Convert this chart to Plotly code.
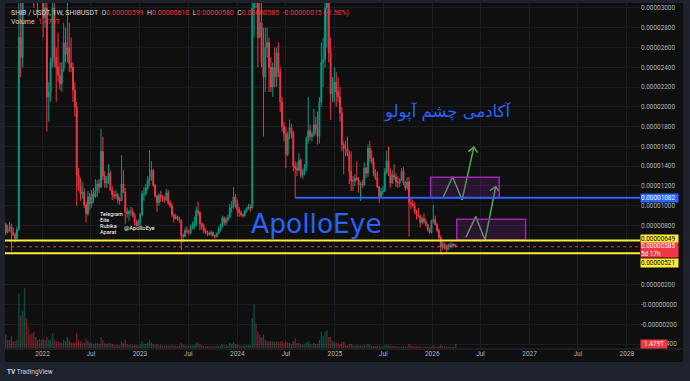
import pandas as pd
import plotly.graph_objects as go

# ---------------- DATA (weekly SHIB/USDT, prices in 1e-6 USDT, volume in trillions) ----------------
first_open = 6.9
last_open = 5.99
close_2021 = [8.1, 7.3, 7.7, 7.9, 7.3, 7.1, 6.7, 7.6, 27, 25, 33, 57, 56, 52, 43, 42, 36, 34, 33, 38, 33]
high_2021 = [8.9, 8.3, 8.1, 8.4, 8.2, 7.8, 7.3, 7.9, 35, 31, 35, 88, 66, 60, 53, 48, 46, 38, 35, 39, 39]
low_2021 = [6.7, 7.0, 7.2, 7.4, 5.4, 6.9, 6.3, 6.6, 7.5, 23, 24, 33, 52, 50, 41, 40, 30, 31, 29, 32, 32]
vol_2021 = [4, 5, 3, 3, 4.5, 2.5, 2.5, 3, 20, 12, 14, 22, 11, 8, 5, 5.5, 6, 4, 3, 3.5, 3]

close_2022 = [29, 30, 21, 21.5, 24.5, 30, 25, 24, 23.2, 22.3, 23.8, 26.5, 25.3, 26, 24.4, 24, 21.7, 20, 13.1, 12,
              11.2, 11.4, 10.1, 9.2, 10.9, 10.2, 11.2, 10.9, 11.5, 12.2, 11.9, 15.5, 13.0, 12.3, 12.4, 13.3, 11.6,
              11.1, 11.0, 11.1, 10.6, 10.5, 12.2, 11.4, 9.4, 9.2, 9.4, 9.4, 9.0, 8.4, 8.0, 8.4]
high_2022 = [34, 33, 31, 22.5, 25, 35, 31, 26, 27.5, 24.5, 24.5, 28.5, 28, 31, 28.5, 27, 24.5, 22.5, 20.5, 13.8,
             12.8, 12.4, 11.8, 10.4, 11.5, 11.3, 11.6, 11.8, 12.7, 12.6, 12.7, 17.8, 17.0, 13.5, 13.0, 14.2, 13.6,
             12.0, 11.5, 11.6, 11.3, 10.9, 15.1, 13.6, 11.8, 9.8, 9.6, 9.9, 9.8, 9.3, 8.6, 8.6]
low_2022 = [27, 28, 17.5, 18.5, 20.5, 24, 24, 20.5, 22.5, 21.7, 21.5, 23.5, 24.5, 24.5, 23.5, 23.5, 20.5, 19, 10,
            11.5, 10.5, 10.7, 9.8, 8.3, 9.0, 9.6, 9.8, 10.3, 10.8, 10.9, 11.3, 11.8, 12.6, 11.8, 11.8, 12.2, 11.5,
            10.6, 10.7, 10.7, 10.2, 10.1, 10.5, 11.3, 8.2, 8.8, 8.5, 9.0, 8.8, 8.0, 7.9, 7.9]
vol_2022 = [3.5, 3, 4, 3, 3, 5.5, 3, 2.5, 2.5, 2, 2, 3, 2.5, 4, 3, 2, 2, 2, 5.5, 3, 2.5, 2, 2, 3.5, 2.5, 2,
            1.8, 1.5, 2, 1.8, 1.5, 4, 3, 1.8, 1.5, 2, 1.8, 1.5, 1.2, 1.2, 1.2, 1.0, 2.5, 1.8, 3, 1.5, 1.2, 1.2,
            1.0, 1.2, 1.0, 0.9]

close_2023 = [9.1, 11.2, 11.2, 11.8, 12.6, 12.8, 13.6, 12.1, 11.0, 10.3, 11.1, 10.8, 10.8, 10.6, 11.3, 10.3, 10.0,
              9.1, 8.7, 8.9, 8.7, 8.5, 7.0, 6.9, 7.5, 7.4, 7.3, 7.8, 8.0, 8.1, 9.5, 9.3, 8.2, 7.9, 7.5, 7.3, 7.2,
              7.1, 7.3, 7.0, 6.9, 7.2, 7.6, 7.9, 8.8, 8.3, 8.6, 8.8, 9.8, 9.9, 10.9, 10.2]
high_2023 = [9.3, 11.5, 11.9, 12.2, 13.0, 15.6, 14.5, 13.7, 12.2, 11.1, 11.3, 11.5, 11.1, 11.0, 11.7, 11.6, 10.6,
             10.3, 9.2, 9.2, 9.0, 8.9, 8.6, 7.2, 7.8, 7.9, 7.6, 8.1, 8.4, 8.9, 9.9, 10.4, 9.5, 8.3, 8.2, 7.7, 7.5,
             7.4, 7.5, 7.4, 7.1, 7.3, 7.9, 8.2, 9.0, 8.9, 8.9, 9.1, 10.2, 10.5, 11.9, 11.2]
low_2023 = [7.9, 9.0, 10.5, 11.0, 11.6, 12.0, 12.5, 11.9, 10.8, 9.4, 10.0, 10.4, 10.4, 10.3, 10.5, 10.1, 9.8, 8.9,
            8.3, 8.6, 8.5, 8.3, 5.5, 6.3, 6.8, 7.2, 7.0, 7.1, 7.6, 7.6, 7.9, 9.0, 7.5, 7.6, 7.2, 7.1, 6.9, 7.0,
            6.9, 6.9, 6.7, 6.8, 7.1, 7.4, 7.8, 8.0, 8.0, 8.4, 8.8, 9.3, 9.7, 9.8]
vol_2023 = [1.5, 2.5, 1.5, 1.5, 2, 3, 2, 1.5, 1.2, 1.5, 1.2, 1, 0.9, 0.8, 1, 0.9, 0.8, 1, 0.9, 0.8, 0.7, 0.7, 2,
            1.2, 1, 0.8, 0.7, 0.9, 1, 1, 2, 2, 1.5, 1, 0.8, 0.7, 0.7, 0.6, 0.6, 0.6, 0.6, 0.6, 0.8, 0.9, 1.5, 1,
            1, 1, 1.8, 1.5, 2.2, 1.5]

close_2024 = [9.6, 9.3, 9.1, 9.0, 9.5, 9.7, 9.9, 9.8, 30, 32, 31, 27, 28.5, 24.5, 23, 26, 26.5, 24, 22, 24, 23,
              25.5, 23.5, 20.5, 18, 17.3, 15.2, 17.2, 17.9, 17.4, 14.0, 13.8, 13.6, 14.6, 13.1, 13.4, 13.9, 16.8,
              17.6, 17.0, 17.2, 18.2, 17.8, 17.0, 20.5, 24.5, 24.8, 30, 30.5, 25.5, 21.3, 21.8, 22.5]
high_2024 = [10.6, 9.9, 9.5, 9.2, 9.6, 9.9, 10.2, 10.1, 36, 45, 38, 33, 33, 31, 28, 28, 28, 27, 25, 24.5, 26, 26,
             26.5, 24, 21, 18.5, 18, 17.5, 18.7, 18.3, 17.6, 14.5, 14.4, 15.3, 14.8, 13.7, 14.2, 17.0, 21.0, 18.2,
             17.5, 19.8, 19.0, 19.5, 21, 26.5, 27, 31, 33, 31, 27, 23, 24]
low_2024 = [8.9, 8.9, 8.9, 8.8, 8.9, 9.3, 9.6, 9.4, 9.7, 27, 30, 24, 27, 24, 17, 21.5, 25, 21.5, 21.5, 21, 22, 22,
            23, 19.5, 17.5, 16.5, 13.8, 15, 16.7, 16.8, 13.5, 10.8, 13.0, 13.5, 12.8, 12.7, 13.1, 13.5, 16.3,
            16.6, 16.5, 17.0, 17.2, 16.2, 16.3, 20, 22, 24, 26, 24.5, 18.7, 20.5, 20.5]
vol_2024 = [1.2, 1, 0.8, 0.8, 0.9, 1, 1.2, 1, 11, 16, 9, 6, 5, 4, 5, 3, 2.5, 2.5, 2.5, 2.5, 2.2, 2.5, 2.2, 2.5,
            2.5, 1.8, 2.5, 2, 1.8, 1.5, 2.5, 3.5, 1.8, 1.8, 1.5, 1.2, 1.2, 2, 2.5, 1.5, 1.2, 1.8, 1.5, 1.5, 3, 6,
            4.5, 6, 6.5, 4, 4, 2.5, 2]

close_2025 = [21.5, 21, 19.4, 16.2, 15.8, 15.8, 15.2, 13.5, 12.5, 12.5, 12.8, 12.6, 12.1, 12.2, 12.1, 13.8, 13.3,
              15.8, 14.8, 14.5, 13.3, 12.8, 11.9, 10.9, 11.4, 11.5, 13.4, 14.5, 13.3, 12.3, 13.1, 12.9, 12.4,
              12.3, 12.6, 13.5, 12.3, 11.8, 12.4, 10.3, 10.2, 10.0, 9.4, 9.1, 9.0, 8.3, 8.7, 8.4, 8.1, 7.6, 7.3, 8.5]
high_2025 = [23.5, 23, 22, 20, 16.5, 16.6, 17.0, 15.6, 15.5, 13.0, 13.2, 14.5, 12.9, 12.4, 12.6, 14.4, 13.9, 16.2,
             16.6, 15.6, 14.9, 13.7, 13.5, 12.0, 11.8, 12.0, 13.8, 15.6, 16.0, 13.8, 13.6, 14.2, 13.3, 13.0, 12.8,
             13.8, 13.9, 12.5, 12.9, 12.9, 10.9, 10.6, 10.4, 9.6, 9.8, 9.1, 8.9, 9.2, 8.7, 8.2, 7.8, 8.6]
low_2025 = [20, 20.5, 18.5, 15.5, 13.2, 15.0, 15.0, 12.2, 11.5, 11.5, 12.0, 12.5, 11.3, 10.5, 11.8, 12.0, 12.8,
            12.9, 14.4, 14.2, 13.0, 12.6, 11.8, 10.3, 10.8, 11.1, 11.4, 13.2, 13.0, 11.8, 12.2, 12.6, 11.9, 11.8,
            11.9, 12.5, 12.1, 11.5, 11.6, 6.9, 9.7, 9.8, 9.2, 8.6, 8.8, 7.8, 8.1, 8.2, 7.9, 7.4, 7.2, 7.2]
vol_2025 = [2, 1.8, 1.5, 2, 2.2, 1.2, 1.0, 1.5, 1.5, 1.0, 0.8, 1.0, 0.8, 1.0, 0.7, 1.2, 0.8, 1.5, 1.2, 0.8, 0.8,
            0.7, 0.7, 0.8, 0.6, 0.5, 1.0, 1.2, 1.0, 0.8, 0.6, 0.7, 0.6, 0.5, 0.5, 0.6, 0.6, 0.5, 0.5, 1.5, 0.8,
            0.6, 0.6, 0.6, 0.5, 0.6, 0.5, 0.5, 0.5, 0.5, 0.4, 0.6]

close_2026 = [8.6, 8.1, 7.5, 6.8, 5.8, 6.1, 5.8, 5.6, 6.0, 5.9, 6.1, 6.00, 5.85]
high_2026 = [10.1, 9.0, 8.3, 7.7, 7.0, 6.4, 6.3, 6.1, 6.2, 6.3, 6.3, 6.2, 6.10]
low_2026 = [8.2, 8.0, 7.3, 6.6, 5.1, 5.5, 5.6, 5.3, 5.5, 5.8, 5.7, 5.8, 5.80]
vol_2026 = [0.9, 0.6, 0.5, 0.7, 1.2, 0.8, 0.6, 0.5, 0.5, 0.5, 0.4, 0.5, 1.479]

first_week = "2021-08-09"

# horizontal levels (1e-6 USDT)
level_upper = 6.49
level_lower = 5.21
level_blue = 10.82
blue_start = "2024-08-04"

# drawn zones: (start, end, bottom, top)
zones = [("2025-12-26", "2026-09-09", 10.82, 12.88),
         ("2026-04-03", "2026-12-17", 6.52, 8.63)]

# projected paths
zig1_dates = ["2026-02-11", "2026-03-18", "2026-04-23", "2026-06-06"]
zig1_prices = [10.86, 12.94, 10.59, 15.92]
head1_dates = ["2026-05-16", "2026-06-06", "2026-06-20"]
head1_prices = [15.47, 15.92, 15.37]
zig2_dates = ["2026-05-07", "2026-06-13", "2026-07-18", "2026-08-27"]
zig2_prices = [6.81, 8.90, 6.54, 11.93]
head2_dates = ["2026-08-05", "2026-08-27", "2026-09-08"]
head2_prices = [11.53, 11.93, 11.50]

price_ticks = [-4, -2, 0, 2, 8, 10, 12, 14, 16, 18, 20, 22, 24, 26, 28, 30]
time_ticks = ["2022-01-01", "2022-07-01", "2023-01-01", "2023-07-01", "2024-01-01", "2024-07-01",
              "2025-01-01", "2025-07-01", "2026-01-01", "2026-07-01", "2027-01-01", "2027-07-01", "2028-01-01"]
time_labels = ["2022", "Jul", "2023", "Jul", "2024", "Jul", "2025", "Jul", "2026", "Jul", "2027", "Jul", "2028"]

# ---------------- BUILD ----------------
closes = close_2021 + close_2022 + close_2023 + close_2024 + close_2025 + close_2026
highs = high_2021 + high_2022 + high_2023 + high_2024 + high_2025 + high_2026
lows = low_2021 + low_2022 + low_2023 + low_2024 + low_2025 + low_2026
vols = vol_2021 + vol_2022 + vol_2023 + vol_2024 + vol_2025 + vol_2026
opens = [first_open] + closes[:-2] + [last_open]
dates = pd.date_range(first_week, periods=len(closes), freq="7D")
last_price = closes[-1]
change = closes[-1] - closes[-2]

GREEN = "#089981"
RED = "#f23645"
BG = "#0f0f0f"
OUTER = "#1e222d"
GRID = "#1a1d23"
AXT = "#b2b5be"
FONT = "Roboto"

X0, X1 = "2021-08-13", "2028-02-19"
Y0, Y1 = -4.38, 30.5

fig = go.Figure()

vol_colors = ["rgba(8,153,129,0.45)" if c >= o else "rgba(242,54,69,0.45)" for o, c in zip(opens, closes)]
fig.add_trace(go.Bar(x=dates, y=vols, marker=dict(color=vol_colors, line=dict(width=0)),
                     width=5 * 86400000, yaxis="y2", hoverinfo="skip", showlegend=False))

fig.add_trace(go.Candlestick(x=dates, open=opens, high=highs, low=lows, close=closes,
                             increasing=dict(line=dict(color=GREEN, width=1), fillcolor=GREEN),
                             decreasing=dict(line=dict(color=RED, width=1), fillcolor=RED),
                             whiskerwidth=0, showlegend=False, hoverinfo="skip"))

for dx, py in [(zig1_dates, zig1_prices), (head1_dates, head1_prices),
               (zig2_dates, zig2_prices), (head2_dates, head2_prices)]:
    fig.add_trace(go.Scatter(x=dx, y=py, mode="lines", line=dict(color="#4caf50", width=1.5),
                             hoverinfo="skip", showlegend=False))

shapes = []
shapes.append(dict(type="rect", xref="paper", yref="paper", x0=0, x1=678 / 635, y0=-14 / 345, y1=1.0,
                   fillcolor=BG, line=dict(width=0), layer="below"))
shapes.append(dict(type="line", xref="paper", yref="paper", x0=0, x1=678 / 635, y0=-1 / 345, y1=-1 / 345,
                   line=dict(color="#2a2e39", width=1), layer="above"))
for z in zones:
    shapes.append(dict(type="rect", xref="x", yref="y", x0=z[0], x1=z[1], y0=z[2], y1=z[3],
                       fillcolor="rgba(156,39,176,0.2)", line=dict(color="#9c27b0", width=1.5), layer="above"))
shapes.append(dict(type="line", xref="x", yref="y", x0=X0, x1=X1, y0=last_price, y1=last_price,
                   line=dict(color=RED, width=1, dash="dot"), layer="above"))
for lv in (level_upper, level_lower):
    shapes.append(dict(type="line", xref="x", yref="y", x0=X0, x1=X1, y0=lv, y1=lv,
                       line=dict(color="#ffeb3b", width=2), layer="above"))
shapes.append(dict(type="line", xref="x", yref="y", x0=blue_start, x1=X1, y0=level_blue, y1=level_blue,
                   line=dict(color="#2962ff", width=2), layer="above"))


def fmt(v):
    s = f"{abs(v) * 1e-6:.8f}"
    return ("-" + s) if v <= 0 else s


def ptxt(v):
    return f"{v * 1e-6:.8f}"


annotations = []
rd = f"<span style='color:{RED}'>"
header = (f"SHIB / USDT, 1W, SHIBUSDT  O{rd}{ptxt(opens[-1])}</span>  H{rd}{ptxt(highs[-1])}</span>  "
          f"L{rd}{ptxt(lows[-1])}</span>  C{rd}{ptxt(closes[-1])}</span>  "
          f"{rd}{ptxt(change)} ({change / closes[-2] * 100:.2f}%)</span>")
annotations.append(dict(xref="paper", yref="paper", x=4 / 635, y=(348 - 12.7) / 345, xanchor="left",
                        yanchor="middle", text=header, showarrow=False,
                        font=dict(family=FONT, size=7, color="#d1d4dc")))
annotations.append(dict(xref="paper", yref="paper", x=4 / 635, y=(348 - 21.7) / 345, xanchor="left",
                        yanchor="middle", text=f"Volume  {rd}{vols[-1]:.3f}T</span>", showarrow=False,
                        font=dict(family=FONT, size=7, color="#d1d4dc")))


def plabel(yval, text, bg, fg, h=8):
    return dict(xref="paper", yref="y", x=1.0, y=yval, xanchor="left", yanchor="middle", text=text,
                showarrow=False, bgcolor=bg, width=37, height=h, borderpad=0, align="left",
                font=dict(family=FONT, size=6.4, color=fg))


annotations.append(plabel(level_blue, ptxt(level_blue), "#2962ff", "#ffffff"))
annotations.append(plabel(6.69, ptxt(level_upper), "#ffeb3b", "#000000"))
annotations.append(plabel(5.53, ptxt(last_price) + "<br>5d 17h", RED, "#ffffff", h=14))
annotations.append(plabel(4.22, ptxt(level_lower), "#ffeb3b", "#000000"))
annotations.append(dict(xref="paper", yref="paper", x=1.0, y=4 / 345, xanchor="left", yanchor="middle",
                        text=f"{vols[-1]:.3f}T", showarrow=False, bgcolor=RED, width=26, height=8,
                        borderpad=0, font=dict(family=FONT, size=6.4, color="#ffffff")))

annotations.append(dict(xref="x", yref="y", x="2024-02-15", y=8.16, xanchor="left", yanchor="middle",
                        text="ApolloEye", showarrow=False,
                        font=dict(family="DejaVu Sans", size=26.5, color="#2962ff")))
annotations.append(dict(xref="x", yref="y", x="2026-02-27", y=19.43, xanchor="center", yanchor="middle",
                        text="آکادمی چشم آپولو", showarrow=False,
                        font=dict(family="DejaVu Sans", size=16.5, color="#2962ff")))
for txt, yy in [("Telegram", 9.17), ("Eite", 8.56), ("Rubika", 7.96), ("Aparat", 7.35)]:
    annotations.append(dict(xref="x", yref="y", x="2022-07-26", y=yy, xanchor="left", yanchor="middle",
                            text=txt, showarrow=False, font=dict(family=FONT, size=5.5, color="#ffffff")))
annotations.append(dict(xref="x", yref="y", x="2022-10-24", y=7.79, xanchor="left", yanchor="middle",
                        text="@ApolloEye", showarrow=False, font=dict(family=FONT, size=5.8, color="#ffffff")))
annotations.append(dict(xref="paper", yref="paper", x=0.0, y=(348 - 372) / 345, xanchor="left",
                        yanchor="middle", text="<b>TV</b> TradingView", showarrow=False,
                        font=dict(family=FONT, size=6.5, color="#d1d4dc")))

fig.update_layout(
    width=690, height=381,
    margin=dict(l=5, r=50, t=3, b=33),
    paper_bgcolor=OUTER, plot_bgcolor=BG,
    showlegend=False,
    shapes=shapes, annotations=annotations,
    xaxis=dict(type="date", range=[X0, X1], tickvals=time_ticks, ticktext=time_labels,
               tickfont=dict(family=FONT, size=6.5, color=AXT), ticks="", showgrid=True, gridcolor=GRID,
               gridwidth=1, zeroline=False, showline=False, rangeslider=dict(visible=False), fixedrange=True),
    yaxis=dict(range=[Y0, Y1], side="right", tickvals=price_ticks, ticktext=[fmt(v) for v in price_ticks],
               tickfont=dict(family=FONT, size=6.4, color=AXT), ticks="", showgrid=True, gridcolor=GRID,
               zeroline=False, showline=False, fixedrange=True),
    yaxis2=dict(overlaying="y", range=[0, 126.8], visible=False, fixedrange=True),
)

fig.write_html("out.html")
